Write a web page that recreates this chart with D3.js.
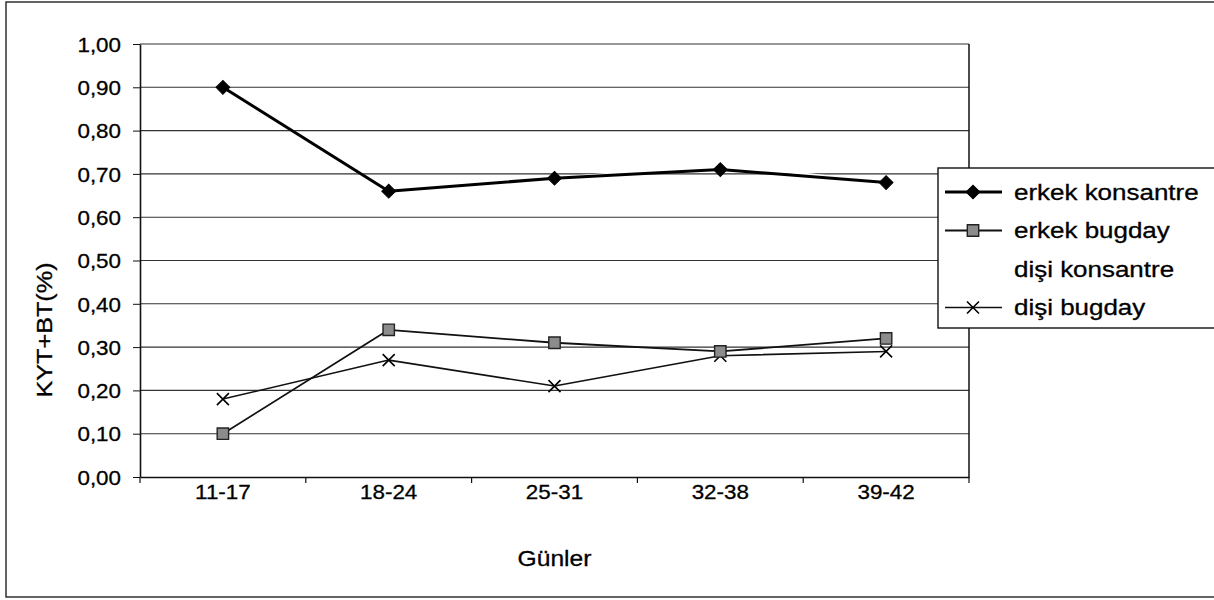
<!DOCTYPE html>
<html>
<head>
<meta charset="utf-8">
<script src="https://cdn.jsdelivr.net/npm/d3@7"></script>
<style>
  html, body { margin: 0; padding: 0; background: #fff; }
  svg { display: block; font-family: "Liberation Sans", Arial, sans-serif; }
  svg text { stroke: #000; stroke-width: 0.3px; paint-order: stroke; }
</style>
</head>
<body>
<svg id="chart" width="1214" height="600"></svg>
<script>
// ---- data ----
const categories = ["11-17", "18-24", "25-31", "32-38", "39-42"];
const erkekKonsantre = [0.90, 0.66, 0.69, 0.71, 0.68];
const erkekBugday = [0.10, 0.34, 0.31, 0.29, 0.32];
const disiKonsantre = [0.90, 0.66, 0.69, 0.72, 0.68];
const disiBugday = [0.18, 0.27, 0.21, 0.28, 0.29];
const seriesNames = ["erkek konsantre", "erkek bugday", "dişi konsantre", "dişi bugday"];
const yTicks = [0, 0.1, 0.2, 0.3, 0.4, 0.5, 0.6, 0.7, 0.8, 0.9, 1.0];
const xTitle = "Günler";
const yTitle = "KYT+BT(%)";

// ---- layout ----
const svg = d3.select("#chart");
const plot = { left: 140, right: 969, top: 44, bottom: 477 };
const SX = 1.12; // horizontal stretch of the scanned text

const x = d3.scaleBand().domain(categories).range([plot.left, plot.right]);
const y = d3.scaleLinear().domain([0, 1]).range([plot.bottom, plot.top]);
const fmt = d => d.toFixed(2).replace(".", ",");

// outer chart border
svg.append("rect")
  .attr("x", 6).attr("y", 2).attr("width", 1220).attr("height", 595)
  .attr("fill", "none").attr("stroke", "#111").attr("stroke-width", 1.3);

// gridlines
svg.append("g").selectAll("line")
  .data(yTicks.filter(t => t > 0))
  .join("line")
  .attr("x1", plot.left).attr("x2", plot.right)
  .attr("y1", d => y(d)).attr("y2", d => y(d))
  .attr("stroke", "#333").attr("stroke-width", 1.1);

// plot border (right edge)
svg.append("line")
  .attr("x1", plot.right).attr("x2", plot.right)
  .attr("y1", plot.top).attr("y2", plot.bottom)
  .attr("stroke", "#111").attr("stroke-width", 1.5);

// y axis
const yAxis = svg.append("g")
  .attr("transform", `translate(${plot.left},0)`)
  .call(d3.axisLeft(y).tickValues(yTicks).tickFormat(fmt).tickSizeInner(7).tickSizeOuter(0));
yAxis.select(".domain").attr("stroke", "#111").attr("stroke-width", 1.6);
yAxis.selectAll(".tick line").attr("stroke", "#111");
yAxis.selectAll(".tick text")
  .attr("font-size", 20).attr("fill", "#000")
  .attr("font-family", "Liberation Sans, Arial, sans-serif")
  .attr("x", -19 / SX).attr("dy", "0.36em")
  .attr("transform", `scale(${SX},1)`);

// x axis
const xAxis = svg.append("g")
  .attr("transform", `translate(0,${plot.bottom})`)
  .call(d3.axisBottom(x).tickSize(0).tickPadding(0));
xAxis.select(".domain").attr("stroke", "#111").attr("stroke-width", 1.6);
xAxis.selectAll(".tick text")
  .attr("font-size", 20).attr("fill", "#000")
  .attr("font-family", "Liberation Sans, Arial, sans-serif")
  .attr("y", 0).attr("dy", "0")
  .attr("transform", `translate(0,22) scale(${SX},1)`);
// category boundary ticks
const boundaries = categories.map(c => x(c)).concat([x.range()[1]]);
svg.append("g").selectAll("line")
  .data(boundaries)
  .join("line")
  .attr("x1", d => d).attr("x2", d => d)
  .attr("y1", plot.bottom).attr("y2", plot.bottom + 6)
  .attr("stroke", "#111").attr("stroke-width", 1.2);

// axis titles
svg.append("text")
  .attr("transform", `translate(${(plot.left + plot.right) / 2},566) scale(${SX},1)`)
  .attr("text-anchor", "middle").attr("font-size", 22).attr("fill", "#000")
  .text(xTitle);
svg.append("text")
  .attr("transform", `translate(52,330) rotate(-90) scale(${SX},1)`)
  .attr("text-anchor", "middle").attr("font-size", 22.5).attr("fill", "#000")
  .text(yTitle);

// ---- series ----
const cx = i => x(categories[i]) + x.bandwidth() / 2;
const line = d3.line().x((d, i) => cx(i)).y(d => y(d));

const series = [
  { name: seriesNames[2], values: disiKonsantre, stroke: "#fff", width: 2.5, marker: "diamondWhite" },
  { name: seriesNames[3], values: disiBugday, stroke: "#111", width: 1.6, marker: "x" },
  { name: seriesNames[1], values: erkekBugday, stroke: "#111", width: 1.8, marker: "square" },
  { name: seriesNames[0], values: erkekKonsantre, stroke: "#000", width: 3, marker: "diamond" }
];

const sqSym = d3.symbol().type(d3.symbolSquare);
function drawMarker(g, type) {
  if (type === "diamond" || type === "diamondWhite") {
    g.append("path").attr("d", sqSym.size(95)()).attr("transform", "rotate(45)")
      .attr("fill", type === "diamond" ? "#000" : "#fff")
      .attr("stroke", type === "diamond" ? "#000" : "none").attr("stroke-width", 1);
  } else if (type === "square") {
    g.append("path").attr("d", sqSym.size(130)())
      .attr("fill", "#8c8c8c").attr("stroke", "#222").attr("stroke-width", 1.4);
  } else if (type === "x") {
    g.append("path").attr("d", "M-6,-6L6,6M-6,6L6,-6")
      .attr("stroke", "#000").attr("stroke-width", 1.6).attr("fill", "none");
  }
}

series.forEach(s => {
  const g = svg.append("g");
  g.append("path").datum(s.values).attr("d", line)
    .attr("fill", "none").attr("stroke", s.stroke).attr("stroke-width", s.width)
    .attr("stroke-linejoin", "round");
  s.values.forEach((v, i) => {
    const m = g.append("g").attr("transform", `translate(${cx(i)},${y(v)})`);
    drawMarker(m, s.marker);
  });
});

// ---- legend ----
const legend = svg.append("g");
legend.append("rect")
  .attr("x", 938).attr("y", 168).attr("width", 300).attr("height", 160)
  .attr("fill", "#fff").attr("stroke", "#111").attr("stroke-width", 1.4);
const legendItems = [
  { name: seriesNames[0], stroke: "#000", width: 3, marker: "diamond" },
  { name: seriesNames[1], stroke: "#111", width: 1.8, marker: "square" },
  { name: seriesNames[2], stroke: "#fff", width: 2.5, marker: "diamondWhite" },
  { name: seriesNames[3], stroke: "#111", width: 1.6, marker: "x" }
];
legendItems.forEach((it, i) => {
  const ly = 192 + i * 38.5;
  legend.append("line").attr("x1", 945).attr("x2", 1002).attr("y1", ly).attr("y2", ly)
    .attr("stroke", it.stroke).attr("stroke-width", it.width);
  const m = legend.append("g").attr("transform", `translate(973,${ly})`);
  drawMarker(m, it.marker);
  legend.append("text")
    .attr("transform", `translate(1014,${ly}) scale(1.18,1)`)
    .attr("dy", "0.36em").attr("font-size", 22).attr("fill", "#000")
    .text(it.name);
});
</script>
</body>
</html>
